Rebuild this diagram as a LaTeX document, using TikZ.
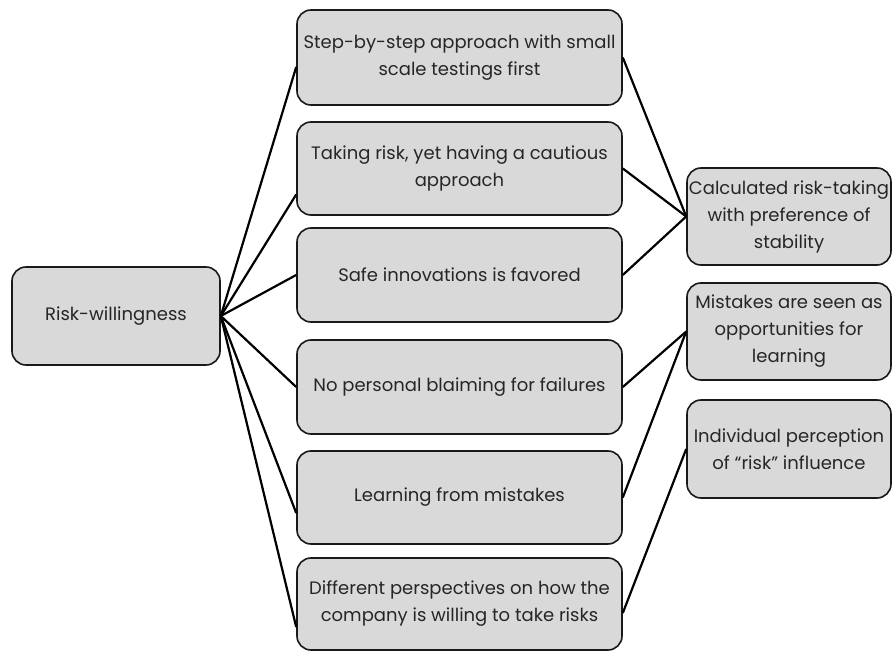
\documentclass[tikz,border=0pt]{standalone}
\usepackage{fontspec}
\setmainfont{Poppins}
\begin{document}
\begin{tikzpicture}[x=1pt,y=-1pt,
  box/.style={draw=black!90, line width=1.6pt, fill=boxgray, rounded corners=14pt,
    align=center, inner sep=0pt, font=\fontsize{18}{27}\selectfont, text=black!85},
  link/.style={line width=2.2pt, black}]
\definecolor{boxgray}{HTML}{D9D9D9}
\useasboundingbox (0,0) rectangle (892,652);
\node[box, minimum width=208pt, minimum height=98pt] (L) at (116,316) {Risk-willingness};
\node[box, minimum width=325pt, minimum height=95pt] (b1) at (459.5,57.5) {Step-by-step approach with small\\scale testings first};
\node[box, minimum width=325pt, minimum height=93pt] (b2) at (459.5,168.5) {Taking risk, yet having a cautious\\approach};
\node[box, minimum width=325pt, minimum height=94pt] (b3) at (459.5,275) {Safe innovations is favored};
\node[box, minimum width=325pt, minimum height=94pt] (b4) at (459.5,387) {No personal blaiming for failures};
\node[box, minimum width=325pt, minimum height=93pt] (b5) at (459.5,497.5) {Learning from mistakes};
\node[box, minimum width=325pt, minimum height=92pt] (b6) at (459.5,604) {Different perspectives on how the\\company is willing to take risks};
\node[box, minimum width=204pt, minimum height=97pt] (r1) at (789,216.5) {Calculated risk-taking\\with preference of\\stability};
\node[box, minimum width=204pt, minimum height=97pt] (r2) at (789,331.5) {Mistakes are seen as\\opportunities for\\learning};
\node[box, minimum width=204pt, minimum height=98pt] (r3) at (789,449) {Individual perception\\of “risk” influence};
\draw[link] (L.east) -- ([yshift=-9.5pt]b1.west);
\draw[link] (L.east) -- ([yshift=-26pt]b2.west);
\draw[link] (L.east) -- (b3.west);
\draw[link] (L.east) -- (b4.west);
\draw[link] (L.east) -- ([yshift=-15.5pt]b5.west);
\draw[link] (L.east) -- ([yshift=-23pt]b6.west);
\draw[link] (b1.east) -- (r1.west);
\draw[link] (b2.east) -- (r1.west);
\draw[link] (b3.east) -- (r1.west);
\draw[link] (b4.east) -- (r2.west);
\draw[link] (b5.east) -- (r2.west);
\draw[link] ([yshift=-9pt]b6.east) -- (r3.west);
\end{tikzpicture}
\end{document}
